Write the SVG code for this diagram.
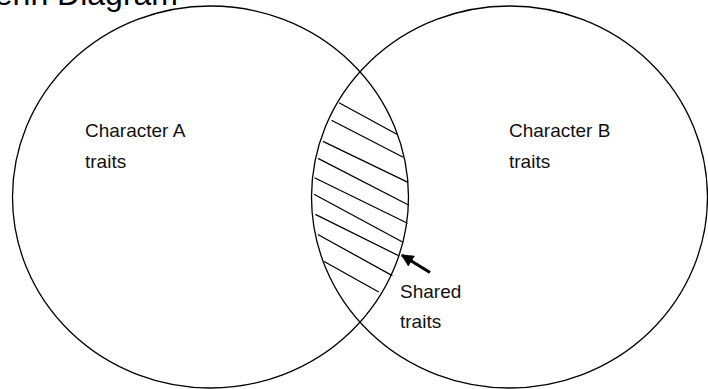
<svg xmlns="http://www.w3.org/2000/svg" width="708" height="389" viewBox="0 0 708 389">
  <style>
    .ring { fill: none; stroke: #000; stroke-width: 1.3; }
    .hatch { stroke: #000; stroke-width: 1.3; fill: none; stroke-linecap: round; }
    .lbl { font-family: "Liberation Sans", Arial, sans-serif; font-size: 19px; fill: #111; }
    .title { font-family: "Liberation Sans", Arial, sans-serif; font-size: 32px; fill: #000; }
    .arrow { stroke: #000; stroke-width: 3; fill: none; }
  </style>
  <defs>
    <marker id="head" viewBox="0 0 10 10" refX="9" refY="5" markerWidth="4.2" markerHeight="4.2" orient="auto" markerUnits="strokeWidth">
      <path d="M0,0 L10,5 L0,10 z" fill="#000"/>
    </marker>
  </defs>
  <rect width="708" height="389" fill="#fff"/>
  <text class="title" x="178" y="5" text-anchor="end">Venn Diagram</text>

  <g id="characterA">
    <ellipse class="ring" cx="210.5" cy="197" rx="198" ry="191"/>
    <text class="lbl" x="85" y="137">Character A</text>
    <text class="lbl" x="85" y="168">traits</text>
  </g>

  <g id="characterB">
    <ellipse class="ring" cx="509.5" cy="197" rx="198" ry="191"/>
    <text class="lbl" x="509" y="137">Character B</text>
    <text class="lbl" x="509" y="168">traits</text>
  </g>

  <g id="shared">
    <line class="hatch" x1="339.5" y1="103" x2="397.3" y2="134.5"/>
    <line class="hatch" x1="332" y1="120.5" x2="402.7" y2="157"/>
    <line class="hatch" x1="323.5" y1="141.7" x2="407.5" y2="182.2"/>
    <line class="hatch" x1="318.5" y1="158.7" x2="408.5" y2="205"/>
    <line class="hatch" x1="315" y1="178" x2="407" y2="223"/>
    <line class="hatch" x1="314.5" y1="194.5" x2="402.5" y2="242"/>
    <line class="hatch" x1="315.8" y1="214.7" x2="398.3" y2="255.5"/>
    <line class="hatch" x1="318.3" y1="234.7" x2="391.8" y2="275.4"/>
    <line class="hatch" x1="324.6" y1="261.7" x2="378.3" y2="291.7"/>
    <text class="lbl" x="400" y="298">Shared</text>
    <text class="lbl" x="400" y="328">traits</text>
  </g>

  <g id="connectors">
    <line class="arrow" x1="430" y1="272.5" x2="402" y2="255.2" marker-end="url(#head)"/>
  </g>
</svg>
